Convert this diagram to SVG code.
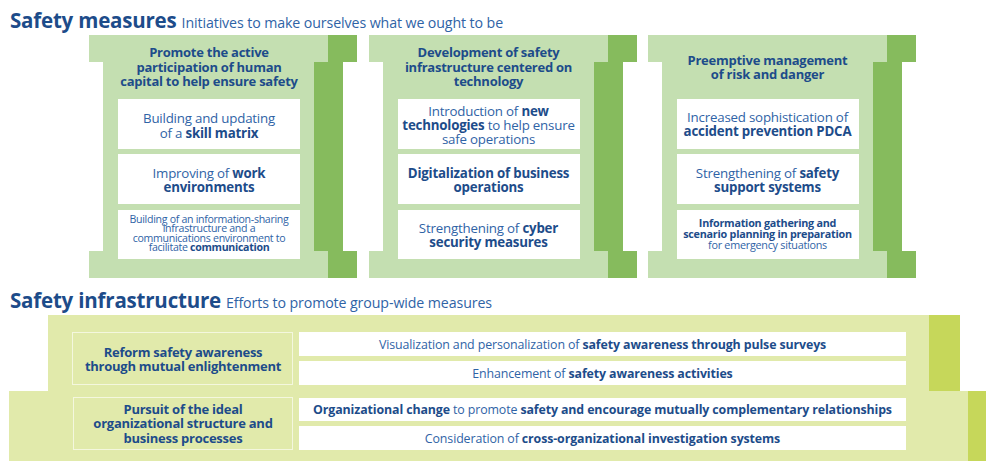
<svg xmlns="http://www.w3.org/2000/svg" width="986" height="461" viewBox="0 0 986 461">
<defs>
<style>
text{font-family:"Open Sans","Noto Sans",sans-serif;fill:#2f63a6;}
.b{font-weight:bold;fill:#1d4c8a;}
.title{font-size:20.5px;font-weight:bold;fill:#1d4c8a;letter-spacing:-0.2px;}
.sub{font-size:14.2px;fill:#2f63a6;letter-spacing:-0.1px;}
.head{font-size:13px;font-weight:bold;fill:#1d4c8a;letter-spacing:-0.25px;}
.bx{font-size:13.3px;letter-spacing:-0.2px;}
.sm{font-size:10.6px;letter-spacing:-0.3px;}
.sm3{font-size:10.8px;letter-spacing:-0.25px;}
.bar{font-size:12.4px;letter-spacing:-0.12px;}
.lt{fill:#c4dfb1;}
.dk{fill:#86bb5d;}
.wb{fill:#ffffff;}
.ylt{fill:#e1eaab;}
.ydk{fill:#c6d75a;}
.lbl{fill:#e1eaab;stroke:#f4f7de;stroke-width:1;}
</style>
<g id="colshape">
<rect class="lt" x="0" y="35" width="239" height="27"/>
<rect class="lt" x="14" y="62" width="211" height="189"/>
<rect class="lt" x="0" y="251" width="239" height="27"/>
<rect class="dk" x="239" y="35" width="29" height="27"/>
<rect class="dk" x="225" y="62" width="29" height="189"/>
<rect class="dk" x="239" y="251" width="29" height="27"/>
<rect class="wb" x="29" y="99" width="182" height="50"/>
<rect class="wb" x="29" y="154" width="182" height="50"/>
<rect class="wb" x="29" y="210" width="182" height="49"/>
</g>
</defs>
<rect width="986" height="461" fill="#ffffff"/>

<g id="title-measures">
<text x="10" y="28"><tspan class="title">Safety measures</tspan><tspan class="sub" dx="5">Initiatives to make ourselves what we ought to be</tspan></text>
</g>

<g id="col1">
<use href="#colshape" x="89" y="0"/>
<text class="head" text-anchor="middle"><tspan x="209" y="57">Promote the active</tspan><tspan x="209" y="71.5">participation of human</tspan><tspan x="209" y="86">capital to help ensure safety</tspan></text>
<text class="bx" text-anchor="middle"><tspan x="209" y="123">Building and updating</tspan><tspan x="209" y="137.5">of a <tspan class="b">skill matrix</tspan></tspan></text>
<text class="bx" text-anchor="middle"><tspan x="209" y="177.5">Improving of <tspan class="b">work</tspan></tspan><tspan x="209" y="192" class="b">environments</tspan></text>
<text class="sm" text-anchor="middle"><tspan x="209" y="223">Building of an information-sharing</tspan><tspan x="209" y="232.3">infrastructure and a</tspan><tspan x="209" y="241.6">communications environment to</tspan><tspan x="209" y="250.9">facilitate <tspan class="b">communication</tspan></tspan></text>
</g>

<g id="col2">
<use href="#colshape" x="369" y="0"/>
<text class="head" text-anchor="middle"><tspan x="488.5" y="57">Development of safety</tspan><tspan x="488.5" y="71.5">infrastructure centered on</tspan><tspan x="488.5" y="86">technology</tspan></text>
<text class="bx" text-anchor="middle"><tspan x="488.5" y="115.5">Introduction of <tspan class="b">new</tspan></tspan><tspan x="488.5" y="129.5"><tspan class="b">technologies</tspan> to help ensure</tspan><tspan x="488.5" y="143.5">safe operations</tspan></text>
<text class="bx b" text-anchor="middle"><tspan x="488.5" y="177.5">Digitalization of business</tspan><tspan x="488.5" y="192">operations</tspan></text>
<text class="bx" text-anchor="middle"><tspan x="488.5" y="232.5">Strengthening of <tspan class="b">cyber</tspan></tspan><tspan x="488.5" y="247" class="b">security measures</tspan></text>
</g>

<g id="col3">
<use href="#colshape" x="648" y="0"/>
<text class="head" text-anchor="middle"><tspan x="767.5" y="65">Preemptive management</tspan><tspan x="767.5" y="79">of risk and danger</tspan></text>
<text class="bx" text-anchor="middle"><tspan x="767.5" y="121.5">Increased sophistication of</tspan><tspan x="767.5" y="136" class="b">accident prevention PDCA</tspan></text>
<text class="bx" text-anchor="middle"><tspan x="767.5" y="177.5">Strengthening of <tspan class="b">safety</tspan></tspan><tspan x="767.5" y="192" class="b">support systems</tspan></text>
<text class="sm3" text-anchor="middle"><tspan x="767.5" y="227" class="b">Information gathering and</tspan><tspan x="767.5" y="238" class="b">scenario planning in preparation</tspan><tspan x="767.5" y="249">for emergency situations</tspan></text>
</g>

<g id="title-infra">
<text x="10" y="308"><tspan class="title">Safety infrastructure</tspan><tspan class="sub" dx="5">Efforts to promote group-wide measures</tspan></text>
</g>

<g id="infra-bg">
<rect class="ylt" x="48" y="315" width="881" height="76"/>
<rect class="ydk" x="929" y="315" width="31" height="76"/>
<rect class="ylt" x="9" y="391" width="959" height="70"/>
<rect class="ydk" x="968" y="391" width="18" height="70"/>
</g>

<g id="row1">
<rect class="lbl" x="72.5" y="332.5" width="220" height="52"/>
<text class="head" text-anchor="middle"><tspan x="183" y="356.5">Reform safety awareness</tspan><tspan x="183" y="371">through mutual enlightenment</tspan></text>
<rect class="wb" x="299" y="332" width="607" height="24"/>
<rect class="wb" x="299" y="361" width="607" height="24"/>
<text class="bar" text-anchor="middle" x="602.5" y="348.5">Visualization and personalization of <tspan class="b">safety awareness through pulse surveys</tspan></text>
<text class="bar" text-anchor="middle" x="602.5" y="377.5">Enhancement of <tspan class="b">safety awareness activities</tspan></text>
</g>

<g id="row2">
<rect class="lbl" x="73.5" y="397.5" width="219" height="52"/>
<text class="head" text-anchor="middle"><tspan x="183" y="413.5">Pursuit of the ideal</tspan><tspan x="183" y="428">organizational structure and</tspan><tspan x="183" y="442.5">business processes</tspan></text>
<rect class="wb" x="299" y="398" width="607" height="23"/>
<rect class="wb" x="299" y="426" width="607" height="24"/>
<text class="bar" text-anchor="middle" x="602.5" y="414"><tspan class="b">Organizational change</tspan> to promote <tspan class="b">safety and encourage mutually complementary relationships</tspan></text>
<text class="bar" text-anchor="middle" x="602.5" y="442.5">Consideration of <tspan class="b">cross-organizational investigation systems</tspan></text>
</g>

<g id="connectors"></g>
</svg>
